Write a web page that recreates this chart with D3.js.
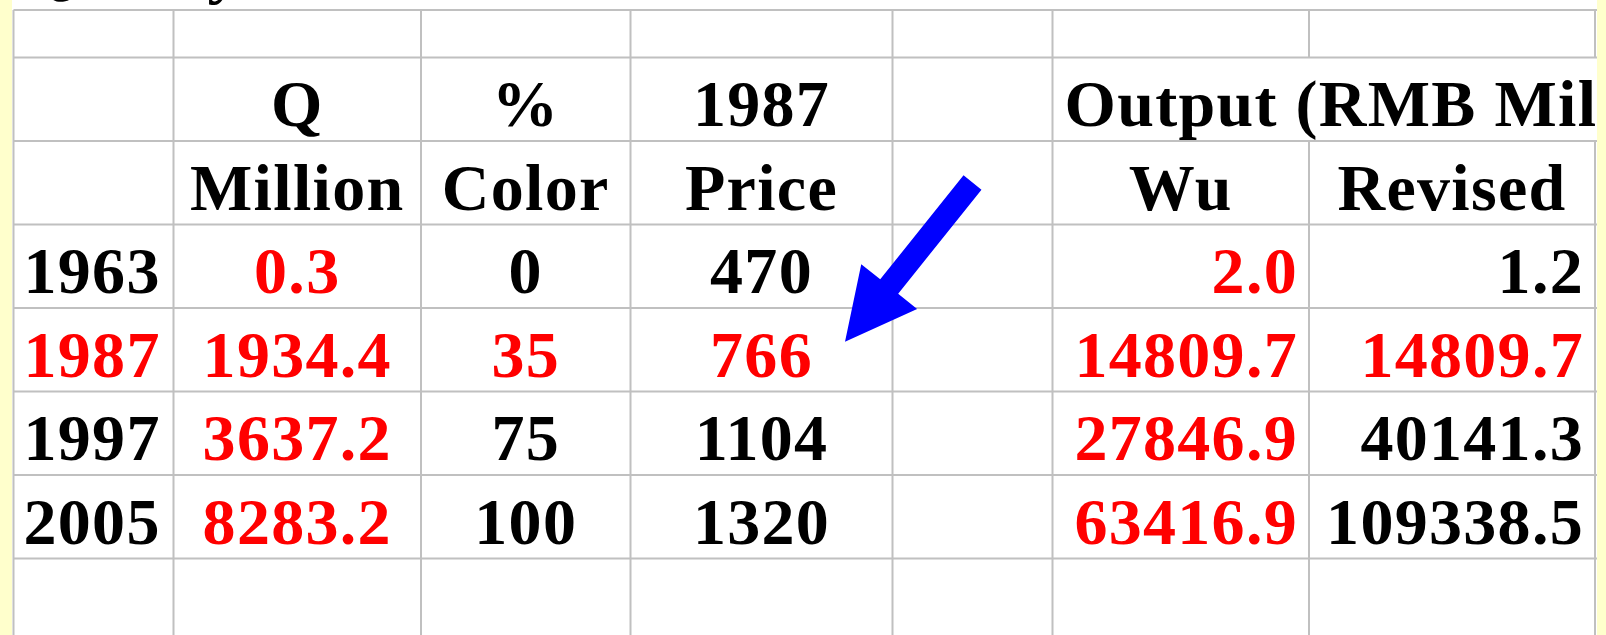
<!DOCTYPE html>
<html>
<head>
<meta charset="utf-8">
<script src="https://cdn.jsdelivr.net/npm/d3@7"></script>
<style>
  body { margin: 0; background: #fff; }
  svg { display: block; }
</style>
</head>
<body>
<div id="table"></div>
<script>
const years = ["1963", "1987", "1997", "2005"];
const qMillion = [0.3, 1934.4, 3637.2, 8283.2];
const pctColor = [0, 35, 75, 100];
const price1987 = [470, 766, 1104, 1320];
const outputWu = [2.0, 14809.7, 27846.9, 63416.9];
const outputRevised = [1.2, 14809.7, 40141.3, 109338.5];

const headerTop = ["", "Q", "%", "1987", "", "Output (RMB Million)", ""];
const headerSub = ["", "Million", "Color", "Price", "", "Wu", "Revised"];
const redColumns = ["q", "wu"];
const redYear = "1987";

const width = 1606, height = 635;
const font = "'Liberation Serif', 'Times New Roman', serif";

const svg = d3.select("#table")
  .append("svg")
  .attr("width", width)
  .attr("height", height);

svg.append("rect").attr("width", width).attr("height", height).attr("fill", "#fff");

// column layout
const colKeys = ["year", "q", "pct", "price", "gap", "wu", "rev"];
const colWidths = [160, 247.5, 209.5, 262, 160, 256.5, 286];
const tableLeft = 13.5;
const edges = [tableLeft, ...d3.cumsum(colWidths).map(v => v + tableLeft)];
const colLeft = d3.scaleOrdinal().domain(colKeys).range(edges.slice(0, -1));
const colRight = d3.scaleOrdinal().domain(colKeys).range(edges.slice(1));
const colMid = k => (colLeft(k) + colRight(k)) / 2;
const tableRight = edges[edges.length - 1];

// row layout
const rowKeys = ["h1", "h2", ...years, "pad"];
const rowH = 83.5;
const y = d3.scaleBand()
  .domain(rowKeys)
  .range([57.5, 57.5 + rowH * rowKeys.length])
  .paddingInner(0);
const topLine = 10;

const grid = svg.append("g")
  .attr("stroke", "#c0c0c0")
  .attr("stroke-width", 2);

// horizontal lines
[topLine, ...rowKeys.map(k => y(k))].forEach(yy => {
  grid.append("line")
    .attr("x1", tableLeft).attr("x2", tableRight + 2)
    .attr("y1", yy).attr("y2", yy);
});

// vertical lines (hidden where the "Output" header spills over)
edges.forEach((xx, i) => {
  const hiddenInH1 = i >= colKeys.indexOf("wu") + 1;
  if (hiddenInH1) {
    grid.append("line").attr("x1", xx).attr("x2", xx).attr("y1", topLine).attr("y2", y("h1"));
    grid.append("line").attr("x1", xx).attr("x2", xx).attr("y1", y("h2")).attr("y2", height);
  } else {
    grid.append("line").attr("x1", xx).attr("x2", xx).attr("y1", topLine).attr("y2", height);
  }
});

const text = svg.append("g")
  .attr("font-family", font)
  .attr("font-weight", "bold")
  .attr("font-size", 66)
  .attr("letter-spacing", 1.3);

const baseline = k => y(k) + y.bandwidth() - 15;

// title row, cut off above the view
text.append("text").attr("x", 20).attr("y", -9).attr("fill", "#000").text("Quality");

// headers
headerTop.forEach((t, i) => {
  if (!t) return;
  const k = colKeys[i];
  const left = k === "wu";
  text.append("text")
    .attr("x", left ? colLeft(k) + 12 : colMid(k))
    .attr("y", baseline("h1"))
    .attr("text-anchor", left ? "start" : "middle")
    .attr("fill", "#000")
    .text(t);
});
headerSub.forEach((t, i) => {
  if (!t) return;
  text.append("text")
    .attr("x", colMid(colKeys[i]))
    .attr("y", baseline("h2"))
    .attr("text-anchor", "middle")
    .attr("fill", "#000")
    .text(t);
});

// body cells
const f1 = d3.format(".1f"), f0 = d3.format("d");
const cols = [
  { key: "year", values: years, fmt: d => d, align: "start" },
  { key: "q", values: qMillion, fmt: f1, align: "middle" },
  { key: "pct", values: pctColor, fmt: f0, align: "middle" },
  { key: "price", values: price1987, fmt: f0, align: "middle" },
  { key: "wu", values: outputWu, fmt: f1, align: "end" },
  { key: "rev", values: outputRevised, fmt: f1, align: "end" }
];

cols.forEach(c => {
  text.selectAll(null)
    .data(c.values)
    .enter()
    .append("text")
    .attr("x", c.align === "start" ? colLeft(c.key) + 10
      : c.align === "end" ? colRight(c.key) - 11 : colMid(c.key))
    .attr("y", (d, i) => baseline(years[i]))
    .attr("text-anchor", c.align)
    .attr("fill", (d, i) => (years[i] === redYear || redColumns.includes(c.key)) ? "#ff0000" : "#000")
    .text(c.fmt);
});

// blue arrow pointing at the 1987 price
const tip = [colRight("price") - 47.5, y(redYear) + 33.7];
const tail = [colLeft("gap") + 80, y("h2") + 41.5];
const len = Math.hypot(tip[0] - tail[0], tip[1] - tail[1]);
const u = [(tip[0] - tail[0]) / len, (tip[1] - tail[1]) / len];
const n = [-u[1], u[0]];
const headLen = 70.7, shaftHalf = 11.5, headHalf = 35.8;
const base = [tip[0] - u[0] * headLen, tip[1] - u[1] * headLen];
const pt = (p, s) => [p[0] + n[0] * s, p[1] + n[1] * s];
const arrowPts = [
  pt(tail, shaftHalf), pt(base, shaftHalf), pt(base, headHalf), tip,
  pt(base, -headHalf), pt(base, -shaftHalf), pt(tail, -shaftHalf)
];
svg.append("path")
  .attr("d", d3.line()(arrowPts) + "Z")
  .attr("fill", "#0000ff");

// pale yellow slide background at the edges
svg.append("rect").attr("x", 0).attr("y", 0).attr("width", 12).attr("height", height).attr("fill", "#ffffcc");
svg.append("rect").attr("x", 1597).attr("y", 0).attr("width", width - 1597).attr("height", height).attr("fill", "#ffffcc");
</script>
</body>
</html>
